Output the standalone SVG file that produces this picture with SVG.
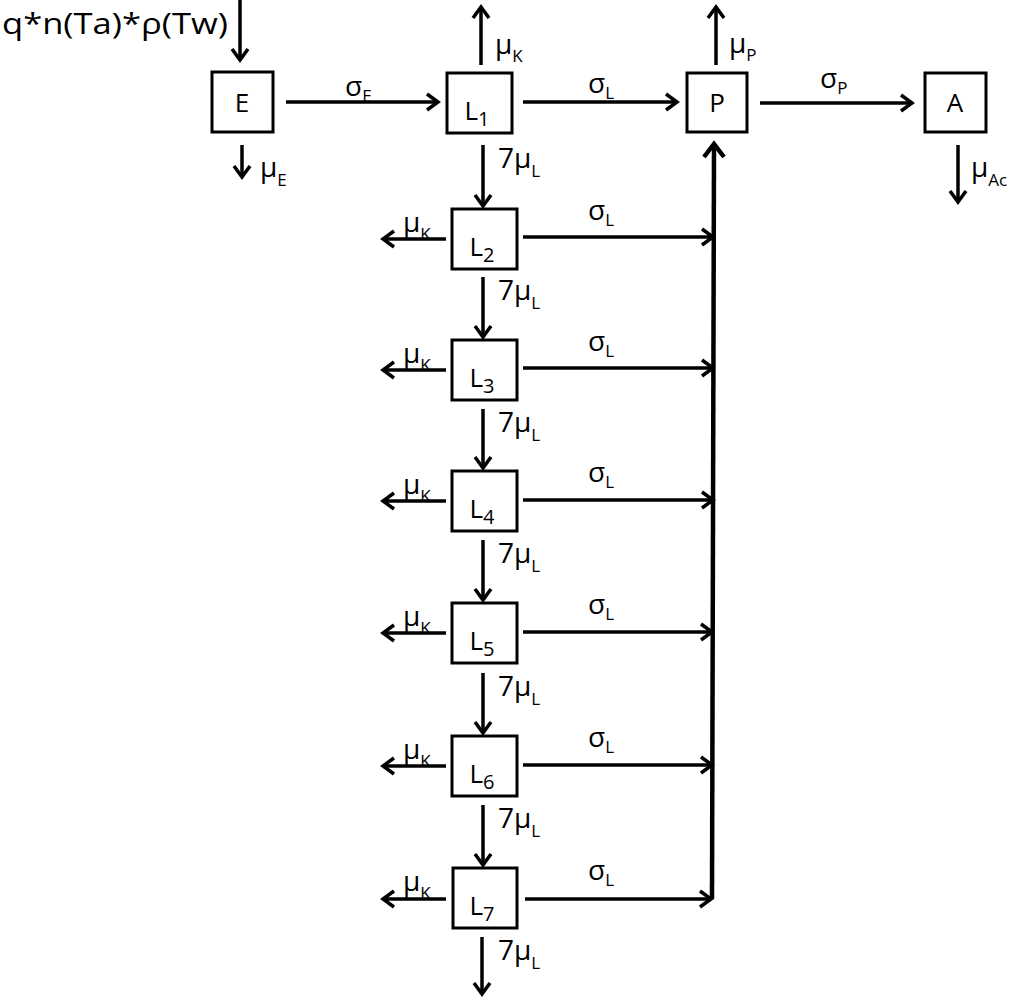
<svg xmlns="http://www.w3.org/2000/svg" width="1024" height="998" viewBox="0 0 1024 998">
<style>
.box{fill:#fff;stroke:#000;stroke-width:3}
.ln{fill:none;stroke:#000;stroke-width:3.5;marker-end:url(#ah)}
.bus{fill:none;stroke:#000;stroke-width:4.5}
text{font-family:"Open Sans","Noto Sans",sans-serif;fill:#000;font-weight:500}
.n{font-size:26px;text-anchor:middle}
.lb{font-size:28px}
.s{font-size:17px}
</style>
<defs>
<marker id="ah" markerUnits="userSpaceOnUse" markerWidth="24" markerHeight="24" viewBox="-14 -12 16 24" refX="0" refY="0" orient="auto">
<path d="M-11,-8 L0,0 L-11,8" fill="none" stroke="#000" stroke-width="3.5"/>
</marker>
</defs>
<rect width="1024" height="998" fill="#fff"/>
<g id="connectors">
<line class="ln" x1="240" y1="0" x2="240" y2="60"/>
<line class="ln" x1="242" y1="145" x2="242" y2="177"/>
<line class="ln" x1="286" y1="102" x2="438" y2="102"/>
<line class="ln" x1="481" y1="65" x2="481" y2="7"/>
<line class="ln" x1="523" y1="102" x2="677" y2="102"/>
<line class="ln" x1="716" y1="65" x2="716" y2="7"/>
<line class="ln" x1="760" y1="103" x2="912" y2="103"/>
<line class="ln" x1="958" y1="145" x2="958" y2="202"/>
<path class="bus" d="M712,899 L714,145"/>
<path d="M704,157 L714,144 L724,157" fill="none" stroke="#000" stroke-width="4.5"/>
<line class="ln" x1="483" y1="145" x2="483" y2="206"/>
<line class="ln" x1="483" y1="277" x2="483" y2="337"/>
<line class="ln" x1="483" y1="409" x2="483" y2="468"/>
<line class="ln" x1="483" y1="540" x2="483" y2="600"/>
<line class="ln" x1="483" y1="673" x2="483" y2="733"/>
<line class="ln" x1="483" y1="805" x2="483" y2="865"/>
<line class="ln" x1="482" y1="937" x2="482" y2="994"/>
<line class="ln" x1="446" y1="239" x2="383" y2="239"/>
<line class="ln" x1="446" y1="370" x2="383" y2="370"/>
<line class="ln" x1="446" y1="501" x2="383" y2="501"/>
<line class="ln" x1="446" y1="633" x2="383" y2="633"/>
<line class="ln" x1="446" y1="766" x2="383" y2="766"/>
<line class="ln" x1="446" y1="899" x2="383" y2="899"/>
<line class="ln" x1="523" y1="237" x2="713" y2="237"/>
<line class="ln" x1="523" y1="368" x2="713" y2="368"/>
<line class="ln" x1="523" y1="500" x2="713" y2="500"/>
<line class="ln" x1="523" y1="632" x2="712" y2="632"/>
<line class="ln" x1="523" y1="765" x2="712" y2="765"/>
<line class="ln" x1="525" y1="899" x2="711" y2="899"/>
</g>
<g id="labels">
<text x="2" y="34" font-size="29" textLength="226" lengthAdjust="spacingAndGlyphs">q*n(Ta)*ρ(Tw)</text>
<text class="lb" x="260" y="177">μ<tspan class="s" dy="9">E</tspan></text>
<text class="lb" x="345" y="96">σ<tspan class="s" dy="6">E</tspan></text>
<text class="lb" x="495" y="54">μ<tspan class="s" dy="8">K</tspan></text>
<text class="lb" x="588" y="93">σ<tspan class="s" dy="6">L</tspan></text>
<text class="lb" x="729" y="53">μ<tspan class="s" dy="8">P</tspan></text>
<text class="lb" x="820" y="88">σ<tspan class="s" dy="6">P</tspan></text>
<text class="lb" x="971" y="177">μ<tspan class="s" dy="9">Ac</tspan></text>
<text class="lb" x="498" y="168">7μ<tspan class="s" dy="9">L</tspan></text>
<text class="lb" x="498" y="300">7μ<tspan class="s" dy="9">L</tspan></text>
<text class="lb" x="498" y="432">7μ<tspan class="s" dy="9">L</tspan></text>
<text class="lb" x="498" y="563">7μ<tspan class="s" dy="9">L</tspan></text>
<text class="lb" x="498" y="696">7μ<tspan class="s" dy="9">L</tspan></text>
<text class="lb" x="498" y="828">7μ<tspan class="s" dy="9">L</tspan></text>
<text class="lb" x="498" y="960">7μ<tspan class="s" dy="9">L</tspan></text>
<text class="lb" x="403" y="232">μ<tspan class="s" dy="8">K</tspan></text>
<text class="lb" x="403" y="363">μ<tspan class="s" dy="8">K</tspan></text>
<text class="lb" x="403" y="494">μ<tspan class="s" dy="8">K</tspan></text>
<text class="lb" x="403" y="626">μ<tspan class="s" dy="8">K</tspan></text>
<text class="lb" x="403" y="759">μ<tspan class="s" dy="8">K</tspan></text>
<text class="lb" x="403" y="891">μ<tspan class="s" dy="8">K</tspan></text>
<text class="lb" x="588" y="220">σ<tspan class="s" dy="6">L</tspan></text>
<text class="lb" x="588" y="351">σ<tspan class="s" dy="6">L</tspan></text>
<text class="lb" x="588" y="482">σ<tspan class="s" dy="6">L</tspan></text>
<text class="lb" x="588" y="614">σ<tspan class="s" dy="6">L</tspan></text>
<text class="lb" x="588" y="747">σ<tspan class="s" dy="6">L</tspan></text>
<text class="lb" x="588" y="880">σ<tspan class="s" dy="6">L</tspan></text>
</g>
<g id="E"><rect class="box" x="212" y="72" width="61" height="60"/><text class="n" x="242" y="112">E</text></g>
<g id="L1"><rect class="box" x="447" y="73" width="65" height="60"/><text class="n" x="477" y="120">L<tspan font-size="20" dy="6">1</tspan></text></g>
<g id="P"><rect class="box" x="687" y="73" width="60" height="59"/><text class="n" x="717" y="112">P</text></g>
<g id="A"><rect class="box" x="925" y="73" width="61" height="59"/><text class="n" x="955" y="112">A</text></g>
<g id="L2"><rect class="box" x="452" y="209" width="65" height="60"/><text class="n" x="482" y="256">L<tspan font-size="20" dy="6">2</tspan></text></g>
<g id="L3"><rect class="box" x="452" y="340" width="65" height="60"/><text class="n" x="482" y="387">L<tspan font-size="20" dy="6">3</tspan></text></g>
<g id="L4"><rect class="box" x="452" y="471" width="65" height="60"/><text class="n" x="482" y="518">L<tspan font-size="20" dy="6">4</tspan></text></g>
<g id="L5"><rect class="box" x="452" y="603" width="65" height="60"/><text class="n" x="482" y="650">L<tspan font-size="20" dy="6">5</tspan></text></g>
<g id="L6"><rect class="box" x="452" y="736" width="65" height="60"/><text class="n" x="482" y="783">L<tspan font-size="20" dy="6">6</tspan></text></g>
<g id="L7"><rect class="box" x="453" y="868" width="64" height="60"/><text class="n" x="482" y="915">L<tspan font-size="20" dy="6">7</tspan></text></g>
</svg>
